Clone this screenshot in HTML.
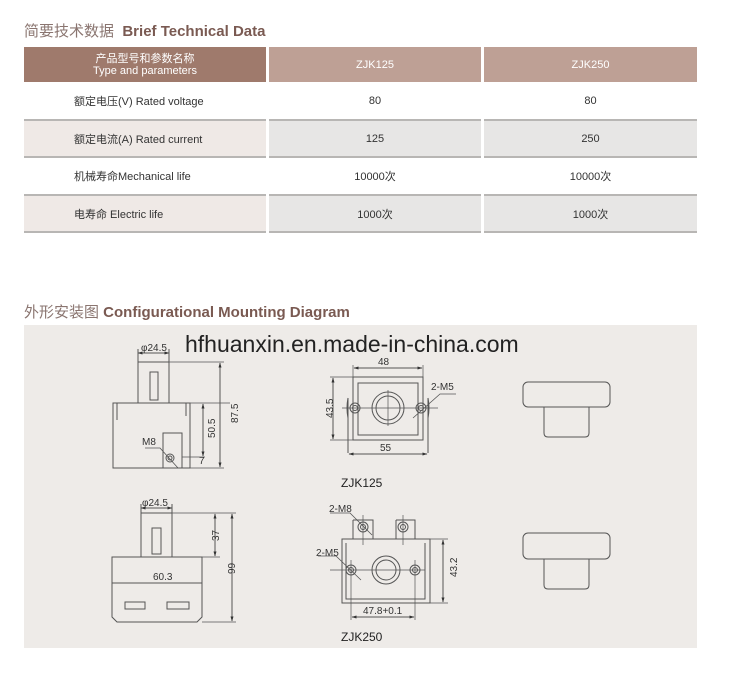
<!DOCTYPE html>
<html><head><meta charset="utf-8"><style>
body{margin:0;background:#fff;width:746px;height:684px;position:relative;overflow:hidden;font-family:"Liberation Sans","Noto Sans CJK SC",sans-serif}
.h{position:absolute;left:24px;font-size:15px;color:#7a5a52;font-weight:bold}
.h span{font-weight:normal;color:#8a7570}
.c{position:absolute;display:flex;align-items:center;justify-content:center;font-size:11px;color:#333;text-align:center;box-sizing:border-box}
.l{justify-content:flex-start;padding-left:50px}
.b{border-bottom:2px solid #b8b6b4}
.g1{background:#efe9e6}.g2{background:#e7e6e5}
</style></head><body>
<div class="h" style="top:20px"><span>简要技术数据</span>&nbsp; Brief Technical Data</div>
<div class="c" style="left:24px;top:47px;width:242px;height:35px;background:#9f7a6c;color:#fff;line-height:12px">产品型号和参数名称<br>Type and parameters</div>
<div class="c" style="left:269px;top:47px;width:212px;height:35px;background:#bea095;color:#fff">ZJK125</div>
<div class="c" style="left:484px;top:47px;width:213px;height:35px;background:#bea095;color:#fff">ZJK250</div>

<div class="c l b" style="left:24px;top:83px;width:242px;height:38px">额定电压(V) Rated voltage</div>
<div class="c b" style="left:269px;top:83px;width:212px;height:38px">80</div>
<div class="c b" style="left:484px;top:83px;width:213px;height:38px">80</div>

<div class="c l b g1" style="left:24px;top:121px;width:242px;height:37px">额定电流(A) Rated current</div>
<div class="c b g2" style="left:269px;top:121px;width:212px;height:37px">125</div>
<div class="c b g2" style="left:484px;top:121px;width:213px;height:37px">250</div>

<div class="c l b" style="left:24px;top:158px;width:242px;height:38px">机械寿命Mechanical life</div>
<div class="c b" style="left:269px;top:158px;width:212px;height:38px">10000次</div>
<div class="c b" style="left:484px;top:158px;width:213px;height:38px">10000次</div>

<div class="c l b g1" style="left:24px;top:196px;width:242px;height:37px">电寿命 Electric life</div>
<div class="c b g2" style="left:269px;top:196px;width:212px;height:37px">1000次</div>
<div class="c b g2" style="left:484px;top:196px;width:213px;height:37px">1000次</div>

<div class="h" style="top:301px"><span>外形安装图</span> Configurational Mounting Diagram</div>
<div style="position:absolute;left:24px;top:325px;width:673px;height:323px;background:#eeebe8"></div>

<svg style="position:absolute;left:0;top:0" width="746" height="684" viewBox="0 0 746 684" font-family="Liberation Sans, sans-serif">
<defs><marker id="a" viewBox="0 0 10 10" refX="9" refY="5" markerWidth="5" markerHeight="5" orient="auto-start-reverse"><path d="M0,2L10,5L0,8z" fill="#333"/></marker></defs>
<text x="185" y="352" font-size="23" fill="#222">hfhuanxin.en.made-in-china.com</text>
<g fill="none" stroke="#555" stroke-width="1">
<rect x="138" y="362" width="31" height="41"/><rect x="150" y="372" width="8" height="28"/>
<path d="M113,403V468H190V403Z M113,403V416 M117,403V420 M186,403V416 M190,403V420"/>
<rect x="163" y="433" width="19" height="35"/>
<circle cx="170" cy="458" r="4"/><circle cx="170" cy="458" r="2"/>
<path d="M169,362H224 M190,468H224 M182,457H205 M169,403H230" stroke-width=".7"/>
<line x1="220" y1="363" x2="220" y2="467" marker-start="url(#a)" marker-end="url(#a)"/>
<line x1="203" y1="404" x2="203" y2="456" marker-start="url(#a)" marker-end="url(#a)"/>
<line x1="138" y1="353" x2="169" y2="353" marker-start="url(#a)" marker-end="url(#a)"/>
<path d="M138,349V362 M169,349V362"/>
<path d="M145,448H160L178,468" stroke-width=".8"/>
<path d="M353,377H423V440H353Z M348,398Q346,408 348,418 M428,398Q430,408 428,418 M348,398V453 M428,398V453 M358,383H418V435H358Z"/>
<circle cx="388" cy="408" r="16"/><circle cx="388" cy="408" r="12"/>
<circle cx="355" cy="408" r="5"/><circle cx="355" cy="408" r="2.5"/>
<circle cx="421" cy="408" r="5"/><circle cx="421" cy="408" r="2.5"/>
<path d="M342,408H438 M388,390V426 M330,377H353 M330,440H353 M353,365V377 M423,365V377" stroke-width=".7"/>
<line x1="354" y1="368" x2="422" y2="368" marker-start="url(#a)" marker-end="url(#a)"/>
<line x1="349" y1="454" x2="427" y2="454" marker-start="url(#a)" marker-end="url(#a)"/>
<line x1="333" y1="378" x2="333" y2="439" marker-start="url(#a)" marker-end="url(#a)"/>
<path d="M456,394H440L413,418" stroke-width=".8"/>
<rect x="523" y="382" width="87" height="25" rx="5"/><path d="M544,407V433Q544,437 548,437H585Q589,437 589,433V407"/>
<rect x="523" y="533" width="87" height="26" rx="5"/><path d="M544,559V585Q544,589 548,589H585Q589,589 589,585V559"/>
<rect x="141" y="513" width="31" height="44"/><rect x="152" y="528" width="9" height="26"/>
<path d="M112,557H202V617L197,622H117L112,617Z M112,583H202"/>
<rect x="125" y="602" width="20" height="7"/><rect x="167" y="602" width="22" height="7"/>
<path d="M172,513H236 M202,622H236 M202,557H220" stroke-width=".7"/>
<line x1="215" y1="514" x2="215" y2="556" marker-start="url(#a)" marker-end="url(#a)"/>
<line x1="232" y1="514" x2="232" y2="621" marker-start="url(#a)" marker-end="url(#a)"/>
<line x1="141" y1="508" x2="172" y2="508" marker-start="url(#a)" marker-end="url(#a)"/>
<path d="M141,504V513 M172,504V513"/>
<path d="M342,539H430V603H342Z M346,543V599H425V543 M353,520H373V539 M353,520V539 M396,520H415V539 M396,520V539"/>
<circle cx="363" cy="527" r="5"/><circle cx="363" cy="527" r="2.5"/>
<circle cx="403" cy="527" r="5"/><circle cx="403" cy="527" r="2.5"/>
<circle cx="386" cy="570" r="14"/><circle cx="386" cy="570" r="10"/>
<circle cx="351" cy="570" r="5"/><circle cx="351" cy="570" r="2.5"/>
<circle cx="415" cy="570" r="5"/><circle cx="415" cy="570" r="2.5"/>
<path d="M330,570H425 M363,515V545 M403,515V545 M351,560V620 M415,560V620 M430,539H448 M430,603H448" stroke-width=".7"/>
<line x1="443" y1="540" x2="443" y2="602" marker-start="url(#a)" marker-end="url(#a)"/>
<line x1="352" y1="617" x2="414" y2="617" marker-start="url(#a)" marker-end="url(#a)"/>
<path d="M330,513H350L372,535 M318,556H336L361,580" stroke-width=".8"/>
</g>
<g font-size="10" fill="#333">
<text x="141" y="351">φ24.5</text><text x="142" y="506">φ24.5</text>
<text x="142" y="445">M8</text>
<text x="217" y="428" transform="rotate(-90 225 415)">87.5</text>
<text x="199" y="438" transform="rotate(-90 207 430)">50.5</text>
<text x="199" y="464">7</text>
<text x="378" y="365">48</text><text x="380" y="451">55</text>
<text x="320" y="415" transform="rotate(-90 328 410)">43.5</text>
<text x="431" y="390">2-M5</text>
<text x="153" y="580">60.3</text>
<text x="208" y="540" transform="rotate(-90 214 535)">37</text>
<text x="225" y="572" transform="rotate(-90 231 568)">99</text>
<text x="329" y="512">2-M8</text><text x="316" y="556">2-M5</text>
<text x="444" y="578" transform="rotate(-90 450 571)">43.2</text>
<text x="363" y="614">47.8+0.1</text>
</g>
<g font-size="12" fill="#222"><text x="341" y="487">ZJK125</text><text x="341" y="641">ZJK250</text></g>
</svg>
</body></html>
